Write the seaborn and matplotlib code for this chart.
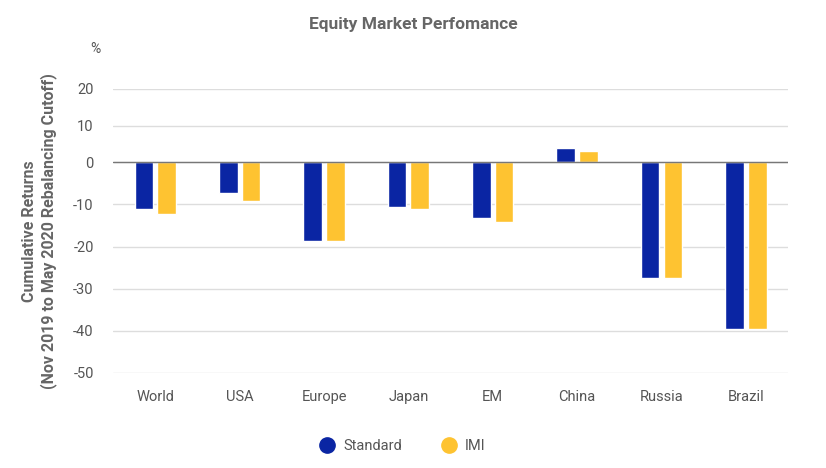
import numpy as np
import pandas as pd
import matplotlib
matplotlib.use("Agg")
import matplotlib.pyplot as plt
import seaborn as sns
from matplotlib.lines import Line2D

markets = ["World", "USA", "Europe", "Japan", "EM", "China", "Russia", "Brazil"]
standard = [-11.2, -7.2, -18.8, -10.6, -13.2, 3.8, -27.4, -39.6]
imi = [-12.2, -9.2, -18.8, -11.2, -14.2, 3.2, -27.4, -39.6]
series = ["Standard", "IMI"]
colors = ["#0A25A3", "#FEC331"]

df = pd.DataFrame({
    "Market": markets * 2,
    "Index": ["Standard"] * len(markets) + ["IMI"] * len(markets),
    "Return": standard + imi,
})

# the original chart squeezes the positive side a little
def fwd(y):
    y = np.asarray(y, dtype=float)
    return np.where(y > 0, y * 0.87, y)

def inv(y):
    y = np.asarray(y, dtype=float)
    return np.where(y > 0, y / 0.87, y)

sns.set_style("white")
plt.rcParams["font.family"] = ["Roboto", "DejaVu Sans"]

fig = plt.figure(figsize=(8.26, 4.68), dpi=100)
ax = fig.add_axes([0.137, 0.203, 0.817, 0.607])

sns.barplot(
    data=df, x="Market", y="Return", hue="Index",
    hue_order=series, palette=colors, width=0.54, gap=0.18,
    saturation=1, legend=False, ax=ax,
)

ax.set_yscale("function", functions=(fwd, inv))
ax.set_ylim(-50, 20)
ax.set_yticks(range(-50, 21, 10))
ax.set_yticklabels([str(v) for v in range(-50, 21, 10)])
ax.yaxis.grid(True, color="#DDDDDD", linewidth=1)
ax.set_axisbelow(True)
ax.axhline(0, color="#777777", linewidth=1, zorder=1.5)
for s in ax.spines.values():
    s.set_visible(False)
ax.tick_params(axis="both", length=0, labelsize=10.5, colors="#555555")
ax.tick_params(axis="y", pad=14)
ax.tick_params(axis="x", pad=12)
ax.set_xlabel("")
ax.set_ylabel("Cumulative Returns\n(Nov 2019 to May 2020 Rebalancing Cutoff)",
              fontsize=11.5, fontweight="bold", color="#666666", labelpad=12)

fig.text(0.115, 0.887, "%", fontsize=10, color="#555555", ha="center")
fig.text(0.5, 0.947, "Equity Market Perfomance", fontsize=12.5,
         fontweight="bold", color="#666666", ha="center", va="center")

handles = [Line2D([], [], marker="o", linestyle="", markersize=11,
                  markerfacecolor=c, markeredgecolor=c) for c in colors]
fig.legend(handles, series, loc="center", bbox_to_anchor=(0.483, 0.046),
           ncol=2, frameon=False, fontsize=10.5, labelcolor="#555555",
           handletextpad=0.1, columnspacing=2.2)

fig.savefig("out.png", dpi=100)
